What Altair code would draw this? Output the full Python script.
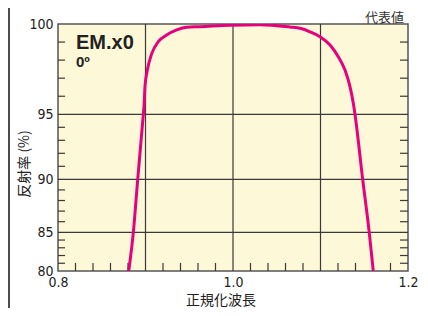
import altair as alt
import pandas as pd

# Curve (normalized wavelength vs reflectance %)
wl = [0.8808, 0.8861, 0.8911, 0.8975, 0.8985, 0.8994, 0.9021, 0.9071, 0.9146, 0.9242,
      0.9357, 0.9471, 0.9623, 0.9966, 1.0309, 1.0651, 1.0766, 1.0880, 1.0994, 1.1109,
      1.1203, 1.1280, 1.1337, 1.1375, 1.1394, 1.1482, 1.1557, 1.1603]
refl = [80.0, 85.0, 90.0, 95.0, 95.6, 96.53, 97.45, 98.36, 99.02, 99.39,
        99.67, 99.82, 99.85, 99.93, 99.96, 99.83, 99.76, 99.57, 99.30, 98.84,
        98.19, 97.45, 96.53, 95.61, 95.0, 90.0, 85.0, 80.0]

x_labels = [0.8, 1.0, 1.2]
y_labels = [80, 85, 90, 95, 100]
x_grid = [0.9, 1.0, 1.1]
y_grid = [85, 90, 95]
x_minor = [0.82, 0.84, 0.86, 0.88, 0.92, 0.94, 0.96, 0.98,
           1.02, 1.04, 1.06, 1.08, 1.12, 1.14, 1.16, 1.18]
y_minor = [81, 82, 83, 84, 86, 87, 88, 89, 91, 92, 93, 94, 96, 97, 98, 99]

x_title = "正規化波長"
y_title = "反射率 (%)"
corner_note = "代表値"
model = "EM.x0"
angle_note = "0º"

W, H = 350, 247
NUM_FONT = "Liberation Sans Narrow, DejaVu Sans Condensed, sans-serif"
CJK_FONT = "Noto Sans CJK JP"
GRID = "#3a3a3a"

xs = alt.Scale(domain=[0.8, 1.2], range=[0, W], nice=False, zero=False)
ys = alt.Scale(domain=[80, 85, 90, 95, 100], range=[H, 208.3, 155.3, 90.3, 0], zero=False, nice=False)

x_axis = alt.Axis(values=x_labels, format=".1f", grid=False, ticks=False, domain=False,
                  labelFont=NUM_FONT, labelFontSize=14, labelColor="#222", labelPadding=4,
                  labelFlush=False, title=None)
y_axis = alt.Axis(values=y_labels, grid=False, ticks=False, domain=False,
                  labelFont=NUM_FONT, labelFontSize=14, labelColor="#222", labelPadding=5,
                  labelFlush=False, title=None)

curve_df = pd.DataFrame({"wl": wl, "r": refl})
one = pd.DataFrame({"a": [0]})

xgrid = alt.Chart(pd.DataFrame({"wl": x_grid})).mark_rule(color=GRID, strokeWidth=1.2).encode(
    x=alt.X("wl:Q", scale=xs, axis=x_axis), y=alt.value(0), y2=alt.value(H))
ygrid = alt.Chart(pd.DataFrame({"r": y_grid})).mark_rule(color=GRID, strokeWidth=1.2).encode(
    y=alt.Y("r:Q", scale=ys, axis=y_axis), x=alt.value(0), x2=alt.value(W))
xmin = alt.Chart(pd.DataFrame({"wl": x_minor})).mark_rule(color=GRID, strokeWidth=1.2).encode(
    x=alt.X("wl:Q", scale=xs, axis=x_axis), y=alt.value(H), y2=alt.value(H - 8))
ymin_l = alt.Chart(pd.DataFrame({"r": y_minor})).mark_rule(color=GRID, strokeWidth=1.2).encode(
    y=alt.Y("r:Q", scale=ys, axis=y_axis), x=alt.value(0), x2=alt.value(7))
ymin_r = alt.Chart(pd.DataFrame({"r": y_minor})).mark_rule(color=GRID, strokeWidth=1.2).encode(
    y=alt.Y("r:Q", scale=ys, axis=y_axis), x=alt.value(W), x2=alt.value(W - 8))

line = alt.Chart(curve_df).mark_line(color="#E6007E", strokeWidth=3, interpolate="monotone", clip=True).encode(
    x=alt.X("wl:Q", scale=xs, axis=x_axis),
    y=alt.Y("r:Q", scale=ys, axis=y_axis),
)

xt = alt.Chart(one).mark_text(text=x_title, font=CJK_FONT, fontSize=14, color="#222",
                              align="center", baseline="middle").encode(
    x=alt.value(163), y=alt.value(277))
yt = alt.Chart(one).mark_text(text=y_title, font=CJK_FONT, fontSize=14, color="#222", angle=270,
                              align="center", baseline="middle").encode(
    x=alt.value(-33), y=alt.value(140))
label_rep = alt.Chart(one).mark_text(text=corner_note, font=CJK_FONT, fontSize=13, color="#333",
                                     align="right", baseline="middle").encode(
    x=alt.value(346), y=alt.value(-6.5))
label_em = alt.Chart(one).mark_text(text=model, font="Liberation Sans", fontSize=20, fontWeight="bold",
                                    color="#222", align="left", baseline="middle").encode(
    x=alt.value(18), y=alt.value(19))
label_deg = alt.Chart(one).mark_text(text=angle_note, font="Liberation Sans", fontSize=15, fontWeight="bold",
                                     color="#222", align="left", baseline="middle").encode(
    x=alt.value(18), y=alt.value(38))
edge = alt.Chart(one).mark_rule(color="#111", strokeWidth=1.5).encode(
    x=alt.value(-49), y=alt.value(-16), y2=alt.value(H + 37))

chart = alt.layer(xgrid, ygrid, xmin, ymin_l, ymin_r, line, xt, yt,
                  label_rep, label_em, label_deg, edge).properties(
    width=W, height=H,
    padding={"left": 50, "top": 16, "right": 12, "bottom": 37},
    autosize=alt.AutoSizeParams(type="none"),
).configure_view(fill="#FDF8D8", stroke="#555", strokeWidth=1.5)

chart.save("out.html", embed_options={"renderer": "svg", "actions": False})
